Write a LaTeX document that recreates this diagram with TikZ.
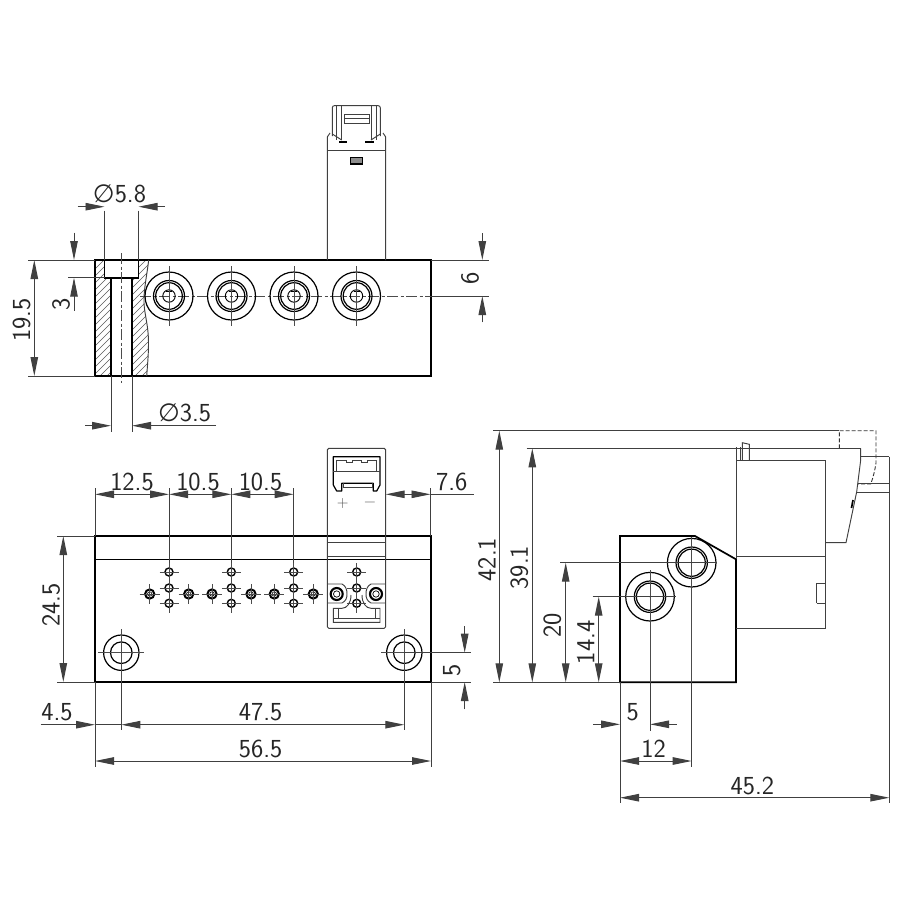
\documentclass[tikz,border=0pt]{standalone}
\usepackage{fontspec}
\newfontfamily\diafont{DejaVu Sans}
\usetikzlibrary{arrows.meta,positioning}
\tikzset{
  dimtip/.tip={Triangle[length=19pt,width=7.5pt]},
  outline/.style={line width=1.7pt,black},
  midline/.style={line width=1.2pt,black},
  thinline/.style={line width=0.95pt,black!75},
  centerline/.style={line width=0.8pt,black!70,dash pattern=on 11pt off 2.5pt on 3pt off 2.5pt},
  crossline/.style={line width=0.8pt,black!70},
  hiddenline/.style={line width=0.9pt,black!80,dash pattern=on 4pt off 2pt},
  dimlabel/.style={inner sep=0pt,black!85,
    font=\sffamily\fontsize{26}{26}\selectfont\addfontfeatures{LetterSpace=7}},
  signlabel/.style={inner sep=0pt,black!70,font=\sffamily\fontsize{16}{16}\selectfont}
}
\newcommand{\diasign}{{\diafont\fontsize{25}{25}\selectfont ∅}}

\begin{document}
\begin{tikzpicture}[x=1pt,y=-1pt]
\useasboundingbox (0,0) rectangle (900,900);

% front view
\begin{scope}
\clip (95,260) -- (104.5,260) -- (104.5,277.7) -- (111,277.7) -- (111,376) -- (95,376) -- cycle
  (138.5,260) -- (148.7,260) .. controls (147,275) and (143.5,290) .. (144,303)
  .. controls (144.5,315) and (148.5,325) .. (148.5,343)
  .. controls (148.5,355) and (147.5,365) .. (146.7,376)
  -- (132,376) -- (132,277.7) -- (138.5,277.7) -- cycle;
\foreach \h in {260,267,...,680}
  \draw[line width=0.55pt,black!65] (90,\h) -- ++(150,-150);
\end{scope}
\draw[outline] (95,260) rectangle (431,376);
\draw[outline] (104.5,260) -- (104.5,277.7) -- (138.5,277.7) -- (138.5,260);
\draw[outline] (111,277.7) -- (111,376) (132,277.7) -- (132,376);
\draw[thinline] (148.7,260) .. controls (147,275) and (143.5,290) .. (144,303)
  .. controls (144.5,315) and (148.5,325) .. (148.5,343)
  .. controls (148.5,355) and (147.5,365) .. (146.7,376);
\draw[centerline] (121.5,253) -- (121.5,383);
\draw[centerline] (140,296) -- (431,296);
\foreach \cx in {169,231.5,294,356.5}{
  \draw[midline] (\cx,296) circle[radius=24] (\cx,296) circle[radius=15.5]
    (\cx,296) circle[radius=13.3];
  \draw[line width=0.9pt] (\cx,296) circle[radius=6.2];
  \draw[line width=0.9pt] (\cx-3,291.5) -- (\cx+3,291.5);
  \draw[crossline] (\cx,266) -- (\cx,326);
}

% connector, front view
\draw[thinline] (327.3,260) -- (327.3,137) -- (330,133);
\draw[thinline] (385.7,260) -- (385.7,137) -- (383,133);
\draw[thinline] (327.3,150.7) -- (385.7,150.7);
\draw[thinline,rounded corners=2pt] (332.3,136) -- (332.3,105.7) -- (380.3,105.7) -- (380.3,136);
\draw[thinline] (336.7,105.7) -- (336.7,140) (341.7,105.7) -- (341.7,140)
  (371,105.7) -- (371,140) (376,105.7) -- (376,140);
\draw[thinline] (332.3,134) -- (341.7,140) (380.3,134) -- (371,140);
\draw[thinline] (344.3,114) rectangle (369,123.3) (344.3,118.3) -- (369,118.3);
\draw[outline] (339,141.7) -- (347,141.7) (365,141.7) -- (374,141.7);
\draw[midline,fill=black!45] (350.7,157.7) rectangle (362.7,164);

% dim 5.8
\begin{scope}
\coordinate(start) at(104.5,206.7);
\coordinate(end) at(138.5,206.7);
\draw[thinline] (104.5,210.7) -- (104.5,260) (138.5,210.7) -- (138.5,260);
\draw[thinline,-{dimtip}] (77.7,206.7) -- (start);
\draw[thinline,-{dimtip}] (165,206.7) -- (end);
\node[dimlabel,anchor=base] (lab58) at (119.5,202.7) {\diasign 5.8};
\end{scope}

% dim 3.5
\begin{scope}
\coordinate(start) at(111,425.7);
\coordinate(end) at(132,425.7);
\draw[thinline] (111,376) -- (111,431.7) (132,376) -- (132,431.7);
\draw[thinline,-{dimtip}] (85,425.7) -- (start);
\draw[thinline,-{dimtip}] (216,425.7) -- (end);
\node[dimlabel,anchor=base] (lab35) at (184.7,421.7) {\diasign 3.5};
\end{scope}

% dim 19.5
\begin{scope}
\coordinate(start) at(34.3,260);
\coordinate(end) at(34.3,376);
\draw[thinline] (28,260) -- (95,260) (28,376) -- (95,376);
\draw[thinline,{dimtip}-{dimtip}] (start) -- (end);
\node[dimlabel,rotate=90] (lab195) at (21.7,320) {19.5};
\end{scope}

% dim 3
\begin{scope}
\coordinate(start) at(74,260);
\coordinate(end) at(74,277.7);
\draw[thinline] (68,277.7) -- (104.5,277.7);
\draw[thinline,-{dimtip}] (74,232.7) -- (start);
\draw[thinline,-{dimtip}] (74,310.7) -- (end);
\node[dimlabel,rotate=90] (lab3) at (61,304) {3};
\end{scope}

% dim 6
\begin{scope}
\coordinate(start) at(482.3,260);
\coordinate(end) at(482.3,296);
\draw[thinline] (431,260) -- (489,260) (431,296) -- (489,296);
\draw[thinline,-{dimtip}] (482.3,233.3) -- (start);
\draw[thinline,-{dimtip}] (482.3,322.3) -- (end);
\node[dimlabel,rotate=90] (lab6) at (470,278) {6};
\end{scope}

% bottom view
\draw[outline] (95,536) rectangle (431,682);
\draw[outline] (95,559.5) -- (431,559.5);
\foreach \cx in {121.3,404.3}{
  \draw[midline] (\cx,652.7) circle[radius=17.7] (\cx,652.7) circle[radius=10.8];
  \draw[crossline] (\cx-23,652.7) -- (\cx+23,652.7) (\cx,629) -- (\cx,682);
}
\foreach \cx in {169,231.3,293.7,356.7}{
  \foreach \cy in {572,588,603.3}{
    \draw[line width=1.4pt] (\cx,\cy) circle[radius=4];
    \draw[crossline] (\cx-9.5,\cy) -- (\cx+9.5,\cy);
  }
  \draw[crossline] (\cx,563) -- (\cx,613);
}
\foreach \cx in {149.7,188.7,212,251,274.3,313.3}{
  \draw[line width=2pt] (\cx,594) circle[radius=4.6];
  \draw[line width=0.6pt] (\cx,594) circle[radius=2.2];
  \draw[crossline] (\cx-10,594) -- (\cx+10,594) (\cx,584) -- (\cx,604);
}
\foreach \cx in {336.7,376}{
  \draw[line width=2.1pt] (\cx,594) circle[radius=6];
  \draw[line width=0.7pt] (\cx,594) circle[radius=3.2];
}

% connector, bottom view
\draw[thinline,rounded corners=1.5pt] (327.3,448.3) rectangle (385.7,628.3);
\draw[thinline] (327.3,542.7) -- (385.7,542.7) (327.3,556.7) -- (385.7,556.7);
\draw[midline,line join=round] (336.7,491) -- (333.3,485) -- (333.3,456.7) -- (380,456.7)
  -- (380,485) -- (376.7,491) -- (373.3,491) -- (373.3,483.3) -- (341.7,483.3)
  -- (341.7,491) -- cycle;
\draw[thinline] (336,471.7) -- (336,460) -- (346,460) -- (346,462) -- (352,462) -- (352,460)
  -- (361,460) -- (361,462) -- (367,462) -- (367,460) -- (376,460) -- (376,471.7);
\draw[thinline] (333.3,471.7) -- (380,471.7);
\draw[thinline] (343,483.3) -- (343,487) -- (372,487) -- (372,483.3);
\node[signlabel] (labplus) at (342.7,504) {+};
\node[signlabel] (labminus) at (370,504) {−};
\draw[thinline] (327.3,584) -- (342,584) .. controls (346,586) and (347,590) .. (347,594)
  .. controls (347,598) and (346,601) .. (342,603) -- (327.3,603);
\draw[thinline] (385.7,584) -- (371,584) .. controls (367,586) and (366,590) .. (366,594)
  .. controls (366,598) and (367,601) .. (371,603) -- (385.7,603);
\draw[thinline] (351,595) .. controls (351,603) and (347,608.3) .. (342,608.3) -- (333.3,608.3)
  -- (333.3,622.3) -- (380,622.3) -- (380,608.3) -- (371,608.3)
  .. controls (366,608.3) and (362,603) .. (362,595);
\draw[thinline] (333.3,618.3) -- (380,618.3) (338,608.3) -- (338,618.3) (375,608.3) -- (375,618.3);

% dim 12.5 10.5 10.5
\begin{scope}
\coordinate(start) at(95,494.3);
\coordinate(end) at(169,494.3);
\coordinate(end2) at(231.3,494.3);
\coordinate(end3) at(293.7,494.3);
\draw[thinline] (95,488.3) -- (95,536) (169,488.3) -- (169,563)
  (231.3,488.3) -- (231.3,563) (293.7,488.3) -- (293.7,563);
\draw[thinline,{dimtip}-{dimtip}] (start) -- (end);
\draw[thinline,{dimtip}-{dimtip}] (end) -- (end2);
\draw[thinline,{dimtip}-{dimtip}] (end2) -- (end3);
\node[dimlabel,anchor=base] (lab125) at (132,490) {12.5};
\node[dimlabel,anchor=base] (lab105) at (198,490) {10.5};
\node[dimlabel,anchor=base] (lab105b) at (260.5,490) {10.5};
\end{scope}

% dim 7.6
\begin{scope}
\coordinate(start) at(385.7,494.3);
\coordinate(end) at(430.5,494.3);
\draw[thinline] (430.5,488.3) -- (430.5,536);
\draw[thinline,{dimtip}-{dimtip}] (start) -- (end);
\draw[thinline] (end) -- (474,494.3);
\node[dimlabel,anchor=base] (lab76) at (451.7,490.7) {7.6};
\end{scope}

% dim 24.5
\begin{scope}
\coordinate(start) at(63.3,536);
\coordinate(end) at(63.3,682);
\draw[thinline] (57.3,536) -- (95,536) (57.3,682) -- (95,682);
\draw[thinline,{dimtip}-{dimtip}] (start) -- (end);
\node[dimlabel,rotate=90] (lab245) at (51,605) {24.5};
\end{scope}

% dim 5
\begin{scope}
\coordinate(start) at(464.7,652.7);
\coordinate(end) at(464.7,682);
\draw[thinline] (404.3,652.7) -- (470.7,652.7) (431,682) -- (470.7,682);
\draw[thinline,-{dimtip}] (464.7,626) -- (start);
\draw[thinline,-{dimtip}] (464.7,709.3) -- (end);
\node[dimlabel,rotate=90] (lab5) at (451.7,670) {5};
\end{scope}

% dim 4.5 47.5
\begin{scope}
\coordinate(start) at(95,724.7);
\coordinate(end) at(121.3,724.7);
\coordinate(end2) at(404.3,724.7);
\draw[thinline] (121.3,682) -- (121.3,730) (404.3,682) -- (404.3,730);
\draw[thinline,-{dimtip}] (40.7,724.7) -- (start);
\draw[thinline] (start) -- (end);
\draw[thinline,{dimtip}-{dimtip}] (end) -- (end2);
\node[dimlabel,anchor=base] (lab45) at (57,720) {4.5};
\node[dimlabel,anchor=base] (lab475) at (260.7,720) {47.5};
\end{scope}

% dim 56.5
\begin{scope}
\coordinate(start) at(95,761);
\coordinate(end) at(431,761);
\draw[thinline] (95,682) -- (95,766.7) (431,682) -- (431,766.7);
\draw[thinline,{dimtip}-{dimtip}] (start) -- (end);
\node[dimlabel,anchor=base] (lab565) at (260.7,757) {56.5};
\end{scope}

% side view
\draw[outline] (620,536) -- (695,536) -- (736,559.3) -- (736,682.3) -- (620,682.3) -- cycle;
\foreach \cx/\cy in {691.7/562.7,650/596.7}{
  \draw[midline] (\cx,\cy) circle[radius=24.3] (\cx,\cy) circle[radius=15.7]
    (\cx,\cy) circle[radius=13.6];
  \fill (\cx,\cy) circle[radius=0.7];
}
\draw[crossline] (691.7,537) -- (691.7,682) (650,570) -- (650,682);

% valve
\draw[thinline] (736,447.3) -- (736,559.3);
\draw[thinline] (736,460.7) -- (825,460.7) -- (825,628) -- (736,628);
\draw[thinline] (736,556) -- (825,556);
\draw[thinline] (825,542.7) -- (846,542.7) -- (856.7,491.7) -- (860.7,460) -- (860.7,448.3);
\draw[thinline] (740,447.3) -- (740,460.7);
\draw[thinline] (742.3,460.7) -- (742.3,442.7) -- (749.3,444.3) -- (749.3,460.7);
\draw[thinline] (816.7,583.3) -- (825,583.3) (816.7,603.3) -- (825,603.3) (816.7,583.3) -- (816.7,603.3);
\draw[outline] (853,500) -- (851.5,508);
\draw[hiddenline] (839.3,448.3) -- (839.3,430.7) -- (876,430.7) -- (876,463)
  .. controls (875,470) and (873,478) .. (870.7,484) -- (858,484);
\draw[thinline] (860.7,456.7) -- (889.3,456.7);
\draw[thinline] (858,483.3) -- (889.3,483.3) (857,492.3) -- (889.3,492.3);

% dim 42.1
\begin{scope}
\coordinate(start) at(499.3,430.7);
\coordinate(end) at(499.3,682.3);
\draw[thinline] (493.3,430.7) -- (839.3,430.7);
\draw[thinline,{dimtip}-{dimtip}] (start) -- (end);
\node[dimlabel,rotate=90] (lab421) at (487,559.5) {42.1};
\end{scope}

% dim 39.1
\begin{scope}
\coordinate(start) at(532.3,448.3);
\coordinate(end) at(532.3,682.3);
\draw[thinline] (526.7,448.3) -- (860.7,448.3);
\draw[thinline,{dimtip}-{dimtip}] (start) -- (end);
\node[dimlabel,rotate=90] (lab391) at (519.3,567.7) {39.1};
\end{scope}

% dim 20
\begin{scope}
\coordinate(start) at(565.7,562.7);
\coordinate(end) at(565.7,682.3);
\draw[thinline] (560,562.7) -- (717,562.7);
\draw[thinline,{dimtip}-{dimtip}] (start) -- (end);
\node[dimlabel,rotate=90] (lab20) at (552.3,625.7) {20};
\end{scope}

% dim 14.4
\begin{scope}
\coordinate(start) at(598.7,596.7);
\coordinate(end) at(598.7,682.3);
\draw[thinline] (592.7,596.7) -- (676,596.7);
\draw[thinline] (493.3,682.3) -- (620,682.3);
\draw[thinline,{dimtip}-{dimtip}] (start) -- (end);
\node[dimlabel,rotate=90] (lab144) at (585.7,642.3) {14.4};
\end{scope}

% dim 5 12 45.2
\begin{scope}
\coordinate(start) at(620,724.3);
\coordinate(end) at(650,724.3);
\draw[thinline] (650,682.3) -- (650,730.7);
\draw[thinline,-{dimtip}] (593.3,724.3) -- (start);
\draw[thinline,-{dimtip}] (676.7,724.3) -- (end);
\node[dimlabel,anchor=base] (lab5b) at (632.7,720.7) {5};
\end{scope}

\begin{scope}
\coordinate(start) at(620,761);
\coordinate(end) at(691.7,761);
\draw[thinline] (691.7,682.3) -- (691.7,766.7);
\draw[thinline,{dimtip}-{dimtip}] (start) -- (end);
\node[dimlabel,anchor=base] (lab12) at (653.7,757.3) {12};
\end{scope}

\begin{scope}
\coordinate(start) at(620,797.7);
\coordinate(end) at(889.3,797.7);
\draw[thinline] (620,682.3) -- (620,803.3) (889.3,456.7) -- (889.3,803.3);
\draw[thinline,{dimtip}-{dimtip}] (start) -- (end);
\node[dimlabel,anchor=base] (lab452) at (752.3,794.3) {45.2};
\end{scope}

\end{tikzpicture}
\end{document}
